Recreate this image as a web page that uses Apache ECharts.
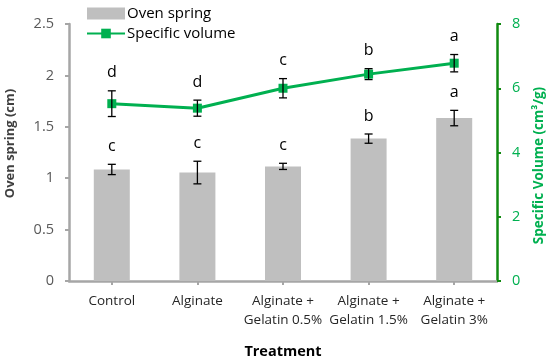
<!DOCTYPE html>
<html><head><meta charset="utf-8">
<script src="https://cdn.jsdelivr.net/npm/echarts@6/dist/echarts.min.js"></script>
<style>html,body{margin:0;padding:0;background:#fff}#c{width:550px;height:360px}</style>
</head><body><div id="c"></div>
<script>
const categories = ['Control', 'Alginate', 'Alginate +\nGelatin 0.5%', 'Alginate +\nGelatin 1.5%', 'Alginate +\nGelatin 3%'];
const ovenSpring = [1.085, 1.055, 1.115, 1.385, 1.585];
const ovenSpringErr = [0.05, 0.11, 0.03, 0.045, 0.075];
const ovenSpringLetters = ['c', 'c', 'c', 'b', 'a'];
const specificVolume = [5.52, 5.38, 6.0, 6.44, 6.78];
const specificVolumeErr = [0.4, 0.25, 0.3, 0.17, 0.27];
const specificVolumeLetters = ['d', 'd', 'c', 'b', 'a'];
const leftTicks = {min: 0, max: 2.5, interval: 0.5};
const rightTicks = {min: 0, max: 8, interval: 2};

const FONT = 'Open Sans';
const GREEN = '#00B050';

function errRender(values, errs, letters) {
  return function (params, api) {
    const i = api.value(0);
    const v = values[i], e = errs[i];
    const top = api.coord([i, v + e]);
    const bot = api.coord([i, v - e]);
    const x = top[0];
    const w = 4;
    const st = {stroke: '#000', lineWidth: 1.3};
    return {
      type: 'group',
      children: [
        {type: 'line', shape: {x1: x, y1: top[1], x2: x, y2: bot[1]}, style: st},
        {type: 'line', shape: {x1: x - w, y1: top[1], x2: x + w, y2: top[1]}, style: st},
        {type: 'line', shape: {x1: x - w, y1: bot[1], x2: x + w, y2: bot[1]}, style: st},
        {type: 'text', x: x, y: top[1] - 18, style: {text: letters[i], fill: '#000', font: '16px "' + FONT + '"', align: 'center', verticalAlign: 'middle'}}
      ]
    };
  };
}

const chart = echarts.init(document.getElementById('c'), null, {renderer: 'canvas'});
chart.setOption({
  animation: false,
  textStyle: {fontFamily: FONT},
  legend: {
    left: 81, top: 1, orient: 'vertical', itemGap: 5, itemWidth: 38, itemHeight: 12,
    textStyle: {fontSize: 15, color: '#000', fontFamily: FONT, padding: [0, 0, 0, -3]},
    data: [
      {name: 'Oven spring', icon: 'rect'},
      {name: 'Specific volume'}
    ]
  },
  grid: {left: 69, right: 53, top: 24, bottom: 79, outerBoundsMode: 'none', containLabel: false},
  xAxis: {
    type: 'category', data: categories,
    name: 'Treatment', nameLocation: 'middle', nameGap: 63,
    nameTextStyle: {fontSize: 14.5, fontWeight: 'bold', color: '#000'},
    axisLine: {lineStyle: {color: '#A6A6A6', width: 2.5}},
    axisTick: {show: true, alignWithLabel: true, length: 4, lineStyle: {color: '#A6A6A6', width: 2}},
    axisLabel: {fontSize: 13.5, color: '#262626', margin: 11, lineHeight: 19, interval: 0}
  },
  yAxis: [
    {
      type: 'value', min: leftTicks.min, max: leftTicks.max, interval: leftTicks.interval,
      name: 'Oven spring (cm)', nameLocation: 'middle', nameGap: 52,
      nameTextStyle: {fontSize: 13, fontWeight: 'bold', color: '#404040', padding: [0, 0, 0, 18]},
      axisLine: {show: true, lineStyle: {color: '#A6A6A6', width: 2.5}},
      axisTick: {show: true, length: 4, lineStyle: {color: '#A6A6A6', width: 2}},
      splitLine: {show: false},
      axisLabel: {fontSize: 14.5, color: '#595959', margin: 15}
    },
    {
      type: 'value', min: rightTicks.min, max: rightTicks.max, interval: rightTicks.interval,
      name: 'Specific Volume (cm³/g)', nameLocation: 'middle', nameGap: 35, nameRotate: 90,
      nameTextStyle: {fontSize: 13.5, fontWeight: 'bold', color: GREEN, padding: [0, 26, 0, 0]},
      axisLine: {show: true, lineStyle: {color: '#108A10', width: 2.5}},
      axisTick: {show: true, length: 4, lineStyle: {color: '#108A10', width: 2}},
      splitLine: {show: false},
      axisLabel: {fontSize: 14.5, color: GREEN, margin: 15}
    }
  ],
  series: [
    {
      name: 'Oven spring', type: 'bar', data: ovenSpring, barWidth: 36,
      itemStyle: {color: '#BFBFBF'}, z: 1
    },
    {
      type: 'custom', name: 'osErr', yAxisIndex: 0, z: 3,
      data: ovenSpring.map((v, i) => [i, v]),
      renderItem: errRender(ovenSpring, ovenSpringErr, ovenSpringLetters)
    },
    {
      name: 'Specific volume', type: 'line', yAxisIndex: 1, data: specificVolume,
      symbol: 'rect', symbolSize: 9, showAllSymbol: true,
      lineStyle: {color: GREEN, width: 3}, itemStyle: {color: GREEN}, z: 4
    },
    {
      type: 'custom', name: 'svErr', yAxisIndex: 1, z: 5,
      data: specificVolume.map((v, i) => [i, v]),
      renderItem: errRender(specificVolume, specificVolumeErr, specificVolumeLetters)
    }
  ]
});
</script></body></html>
